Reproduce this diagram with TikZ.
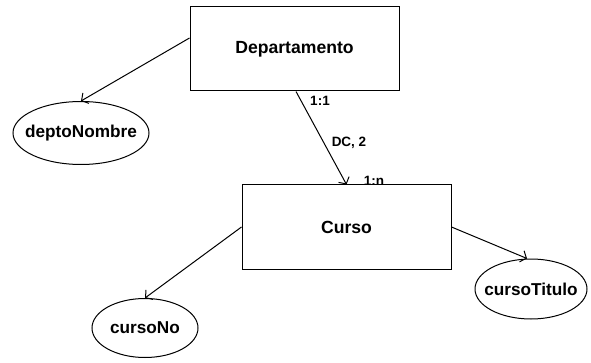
\documentclass[tikz,border=0pt]{standalone}
\usepackage{fontspec}
\setmainfont{Liberation Sans}
\usetikzlibrary{shapes.geometric,arrows.meta}
\newcommand{\zw}[1]{\makebox[0pt]{#1}}
\tikzset{
  entity/.style={draw, line width=1pt, fill=white, minimum width=209pt, minimum height=84pt, inner sep=0pt, font=\fontsize{17.6}{19}\selectfont\bfseries},
  attr/.style={draw, ellipse, line width=1pt, fill=white, inner sep=0pt, font=\fontsize{17.2}{19}\selectfont\bfseries},
  conn/.style={line width=1pt, -{Straight Barb[length=5pt,width=12pt,line width=1pt]}},
  lbl/.style={font=\fontsize{13.5}{15}\selectfont\bfseries, inner sep=0pt}
}
\begin{document}
\begin{tikzpicture}[x=1pt,y=-1pt]
\useasboundingbox (0,0) rectangle (591,363);
\node[entity] (dep) at (294.5,49) {Departamento};
\node[attr, minimum width=136pt, minimum height=63pt] (dn) at (81,133) {\zw{deptoNombre}};
\node[lbl] (l11) at (320,101) {1:1};
\node[lbl] (ldc) at (349,143) {DC, 2};
\node[lbl, anchor=north] (l1n) at (374,176) {1:n};
\node[entity] (cur) at (346.5,227) {Curso};
\node[attr, minimum width=106pt, minimum height=59pt] (cn) at (145,328) {\zw{cursoNo}};
\node[attr, minimum width=112pt, minimum height=60pt] (ct) at (531,289) {\zw{cursoTitulo}};
\draw[conn] ([yshift=11pt]dep.west) -- (dn.north);
\draw[conn] ([xshift=1.5pt]dep.south) -- (cur.north);
\draw[conn] (cur.west) -- (cn.north);
\draw[conn] (cur.east) -- ([xshift=-4pt]ct.north);
\end{tikzpicture}
\end{document}
